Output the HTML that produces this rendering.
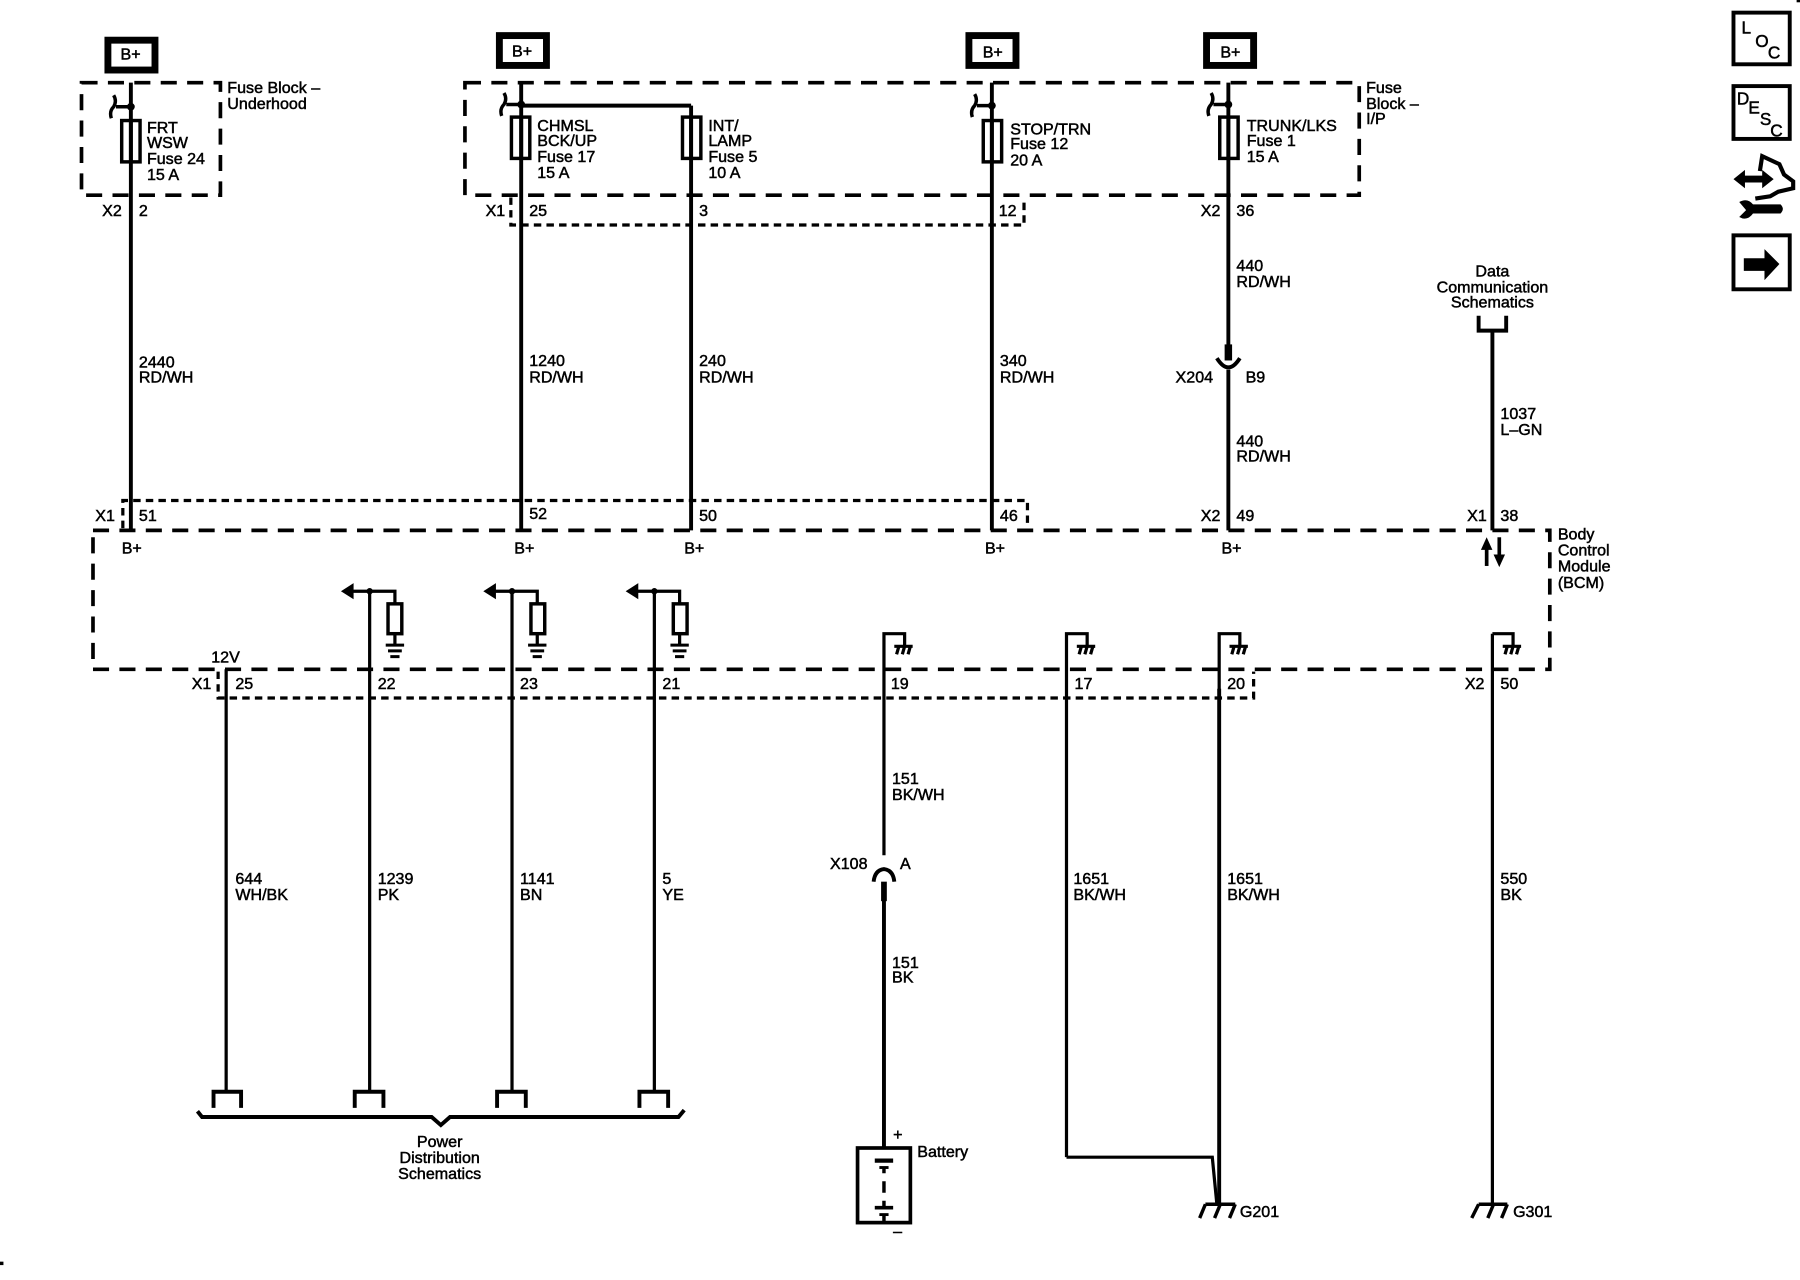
<!DOCTYPE html>
<html><head><meta charset="utf-8"><style>
html,body{margin:0;padding:0;background:#fff;width:1800px;height:1280px;overflow:hidden}
svg{display:block}
text{font-family:"Liberation Sans",sans-serif;font-size:14px;fill:#000;stroke:#000;stroke-width:.42}
.m{text-anchor:middle}
.d{fill:none;stroke:#000;stroke-width:3.2;stroke-dasharray:14 9}
.t{fill:none;stroke:#000;stroke-width:2.8;stroke-dasharray:6.5 4.5}
.w{fill:none;stroke:#000;stroke-width:3.4}
.n{fill:none;stroke:#000;stroke-width:2.8}
.b{fill:#fff;stroke:#000;stroke-width:6}
.s{fill:none;stroke:#000;stroke-width:3}
</style></head><body>
<svg width="1800" height="1280" viewBox="0 0 1800 1280" xmlns="http://www.w3.org/2000/svg">
<g transform="scale(1.148,1.148)">
<!-- dashed boxes -->
<rect class="d" x="71" y="72" width="121" height="98"/>
<rect class="d" x="405" y="72" width="779" height="98"/>
<rect class="d" x="81" y="462" width="1269" height="121"/>
<path class="t" d="M445 172V196H892V172"/>
<path class="t" d="M107 460V436H895V460"/>
<path class="t" d="M190 585V608H1092V585"/>
<!-- B+ boxes -->
<rect class="b" x="94" y="35" width="41" height="26"/>
<rect class="b" x="435" y="31" width="41" height="26"/>
<rect class="b" x="844" y="31" width="41" height="26"/>
<rect class="b" x="1051" y="31" width="41" height="26"/>
<text x="105" y="52">B+</text><text x="446" y="49">B+</text><text x="856" y="50">B+</text><text x="1063" y="50">B+</text>
<!-- upper wires -->
<path class="w" d="M114 72V462M454 72V462M602 92V462M864 72V462M454 92H602M1070 72V312M1070 322V462"/>
<path d="M1070 300V314" stroke="#000" stroke-width="6.5"/>
<path class="w" d="M1060 312Q1070 328 1080 312"/>
<path class="w" d="M1300 288V462"/>
<path class="w" d="M1288 275V288H1312V275"/>
<!-- fuses -->
<rect class="s" x="106" y="105" width="16" height="36" fill="#fff"/>
<rect class="s" x="445.500" y="102" width="16" height="36" fill="#fff"/>
<rect class="s" x="594.500" y="102" width="16" height="36" fill="#fff"/>
<rect class="s" x="856.500" y="105" width="16" height="36" fill="#fff"/>
<rect class="s" x="1062.500" y="102" width="16" height="36" fill="#fff"/>
<path class="w" d="M114 105V141M454 102V138M602 102V138M864 105V141M1070 102V138"/>
<!-- branch symbols -->
<g fill="none" stroke="#000" stroke-width="3">
<path d="M114 93H101M99 83Q102 88 99 93Q95 97 97 103"/>
<path d="M454 91H441M439 81Q442 86 439 91Q435 95 437 101"/>
<path d="M864 92H851M849 82Q852 87 849 92Q845 96 847 102"/>
<path d="M1070 91H1057M1055 81Q1058 86 1055 91Q1051 95 1053 101"/>
</g>
<circle cx="114" cy="93" r="3.4"/><circle cx="454" cy="91" r="3.4"/><circle cx="864" cy="92" r="3.4"/><circle cx="1070" cy="91" r="3.4"/>
<!-- lower wires -->
<path class="n" d="M197 583V950M322 515V950M446 515V950M570 515V950M1300 552V1049"/>
<path class="n" d="M770 745V552H788V562M929 1008V552H947V562M1062 1049V552H1080V562M1300 552H1318V562"/>
<path class="w" d="M770 780V1003M1062 600V1049"/>
<path d="M770 768V785" stroke="#000" stroke-width="5"/>
<path class="w" d="M761 768Q762 758 770 757Q778 758 779 768"/>
<path class="n" d="M929 1008H1056L1060 1049"/>
<!-- bcm outputs -->
<g>
<path class="n" d="M306 515H344V526M344 552V561M430 515H468V526M468 552V561M554 515H592V526M592 552V561"/>
<rect class="s" x="338" y="526" width="12" height="26"/>
<rect class="s" x="462.500" y="526" width="12" height="26"/>
<rect class="s" x="586.500" y="526" width="12" height="26"/>
<path d="M297 515L308 508V522ZM421 515L432 508V522ZM545 515L556 508V522Z"/>
<circle cx="322" cy="515" r="2.800"/><circle cx="446" cy="515" r="2.800"/><circle cx="570" cy="515" r="2.800"/>
<path d="M336 562H352M338 567H350M340 572H348M460 562H476M462 567H474M464 572H472M584 562H600M586 567H598M588 572H596" stroke="#000" stroke-width="2.6"/>
</g>
<!-- chassis grounds -->
<g fill="none" stroke="#000" stroke-width="2.8">
<path d="M779 563H795M781 570L783 563M786 570L788 563M791 570L793 563"/>
<path d="M938 563H954M940 570L942 563M945 570L947 563M950 570L952 563"/>
<path d="M1071 563H1087M1073 570L1075 563M1078 570L1080 563M1083 570L1085 563"/>
<path d="M1309 563H1325M1311 570L1313 563M1316 570L1318 563M1321 570L1323 563"/>
</g>
<!-- data arrows -->
<path d="M1295 493V478" stroke="#000" stroke-width="3.2"/><path d="M1290 479L1295 468L1300 479Z"/>
<path d="M1306 468V484" stroke="#000" stroke-width="3.2"/><path d="M1301 483L1306 494L1311 483Z"/>
<!-- bottom connectors -->
<path class="w" d="M186 965V951H210V965M309 965V951H334V965M433 965V951H458V965M557 965V951H582V965"/>
<path class="w" d="M172 968L176 973H376L384 980L392 973H591L596 967"/>
<!-- battery -->
<rect class="b" style="stroke-width:3.2" x="747" y="1000" width="46" height="65"/>
<path d="M762 1011H778" stroke="#000" stroke-width="3.600"/>
<path d="M766 1017H774" stroke="#000" stroke-width="2.500"/>
<path d="M770 1017V1022M770 1029V1039M770 1046V1052M770 1058V1065" stroke="#000" stroke-width="3"/>
<path d="M762 1052H778" stroke="#000" stroke-width="3.200"/>
<path d="M766 1058H774" stroke="#000" stroke-width="2.500"/>
<!-- grounds -->
<g fill="none" stroke="#000" stroke-width="3">
<path d="M1050 1049H1076M1050 1049L1045 1061M1063 1049L1058 1061M1076 1049L1071 1061"/>
<path d="M1288 1049H1313M1288 1049L1282 1061M1301 1049L1296 1061M1313 1049L1308 1061"/>
</g>
<!-- icons -->
<rect class="b" style="stroke-width:3.400" x="1510" y="11" width="49" height="45"/>
<rect class="b" style="stroke-width:3.400" x="1510" y="75" width="49" height="46"/>
<rect class="b" style="stroke-width:3.400" x="1510" y="205" width="49" height="47"/>
<text x="1517" y="29" style="font-size:15px">L</text><text x="1529" y="41" style="font-size:15px">O</text><text x="1540" y="51" style="font-size:15px">C</text>
<text x="1513" y="91" style="font-size:15px">D</text><text x="1523" y="99" style="font-size:15px">E</text><text x="1533" y="109" style="font-size:15px">S</text><text x="1542" y="119" style="font-size:15px">C</text>
<path d="M1519 225H1537V217L1550 230L1537 244V236H1519Z"/>
<path d="M1533 149L1535 136L1550 143L1554 152L1562 158L1562 164L1549 167L1542 171L1529 173" fill="none" stroke="#000" stroke-width="3.600"/>
<path d="M1510 156L1520 148V153H1535V148L1545 156L1535 164V159H1520V164Z"/>
<path d="M1527 178H1551Q1555 182 1551 186H1527Q1522 193 1515 189L1521 183L1515 176Q1522 172 1527 178Z"/>
<rect x="1565" y="0" width="3" height="2"/><rect x="0" y="1099" width="3" height="3"/>
<!-- labels -->
<text x="198" y="81">Fuse Block –</text><text x="198" y="95">Underhood</text>
<text x="128" y="116">FRT</text><text x="128" y="129">WSW</text><text x="128" y="143">Fuse 24</text><text x="128" y="157">15 A</text>
<text x="89" y="188">X2</text><text x="121" y="188">2</text>
<text x="121" y="320">2440</text><text x="121" y="333">RD/WH</text>
<text x="468" y="114">CHMSL</text><text x="468" y="127">BCK/UP</text><text x="468" y="141">Fuse 17</text><text x="468" y="155">15 A</text>
<text x="423" y="188">X1</text><text x="461" y="188">25</text><text x="609" y="188">3</text><text x="870" y="188">12</text>
<text x="461" y="319">1240</text><text x="461" y="333">RD/WH</text>
<text x="609" y="319">240</text><text x="609" y="333">RD/WH</text>
<text x="871" y="319">340</text><text x="871" y="333">RD/WH</text>
<text x="617" y="114">INT/</text><text x="617" y="127">LAMP</text><text x="617" y="141">Fuse 5</text><text x="617" y="155">10 A</text>
<text x="880" y="117">STOP/TRN</text><text x="880" y="130">Fuse 12</text><text x="880" y="144">20 A</text>
<text x="1086" y="114">TRUNK/LKS</text><text x="1086" y="127">Fuse 1</text><text x="1086" y="141">15 A</text>
<text x="1190" y="81">Fuse</text><text x="1190" y="95">Block –</text><text x="1190" y="108">I/P</text>
<text x="1046" y="188">X2</text><text x="1077" y="188">36</text>
<text x="1077" y="236">440</text><text x="1077" y="250">RD/WH</text>
<text x="1024" y="333">X204</text><text x="1085" y="333">B9</text>
<text x="1077" y="389">440</text><text x="1077" y="402">RD/WH</text>
<text class="m" x="1300" y="241">Data</text><text class="m" x="1300" y="255">Communication</text><text class="m" x="1300" y="268">Schematics</text>
<text x="1307" y="365">1037</text><text x="1307" y="379">L–GN</text>
<text x="83" y="454">X1</text><text x="121" y="454">51</text><text x="461" y="452">52</text><text x="609" y="454">50</text><text x="871" y="454">46</text>
<text x="1046" y="454">X2</text><text x="1077" y="454">49</text><text x="1278" y="454">X1</text><text x="1307" y="454">38</text>
<text x="106" y="482">B+</text><text x="448" y="482">B+</text><text x="596" y="482">B+</text><text x="858" y="482">B+</text><text x="1064" y="482">B+</text>
<text x="1357" y="470">Body</text><text x="1357" y="484">Control</text><text x="1357" y="498">Module</text><text x="1357" y="512">(BCM)</text>
<text x="184" y="577">12V</text><text x="167" y="600">X1</text><text x="205" y="600">25</text><text x="329" y="600">22</text><text x="453" y="600">23</text><text x="577" y="600">21</text><text x="776" y="600">19</text><text x="936" y="600">17</text><text x="1069" y="600">20</text><text x="1276" y="600">X2</text><text x="1307" y="600">50</text>
<text x="205" y="770">644</text><text x="205" y="784">WH/BK</text>
<text x="329" y="770">1239</text><text x="329" y="784">PK</text>
<text x="453" y="770">1141</text><text x="453" y="784">BN</text>
<text x="577" y="770">5</text><text x="577" y="784">YE</text>
<text x="935" y="770">1651</text><text x="935" y="784">BK/WH</text>
<text x="1069" y="770">1651</text><text x="1069" y="784">BK/WH</text>
<text x="1307" y="770">550</text><text x="1307" y="784">BK</text>
<text x="777" y="683">151</text><text x="777" y="697">BK/WH</text>
<text x="723" y="757">X108</text><text x="784" y="757">A</text>
<text x="777" y="843">151</text><text x="777" y="856">BK</text>
<text x="778" y="993">+</text><text x="799" y="1008">Battery</text><text x="778" y="1077">–</text>
<text x="1080" y="1060">G201</text><text x="1318" y="1060">G301</text>
<text class="m" x="383" y="999">Power</text><text class="m" x="383" y="1013">Distribution</text><text class="m" x="383" y="1027">Schematics</text>
</g>
</svg>
</body></html>
